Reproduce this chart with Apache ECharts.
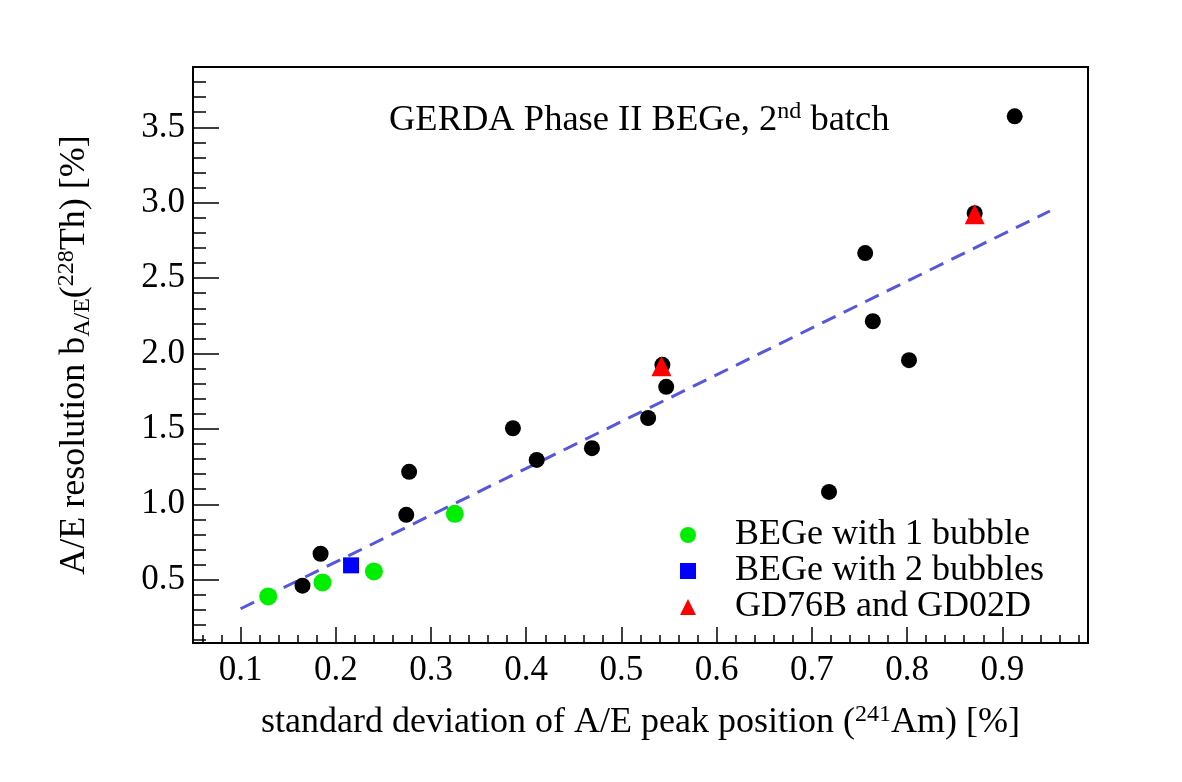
<!DOCTYPE html>
<html><head><meta charset="utf-8">
<script src="https://cdn.jsdelivr.net/npm/echarts@6/dist/echarts.min.js"></script>
<style>html,body{margin:0;padding:0;background:#fff}#c{width:1182px;height:782px}</style>
</head><body><div id="c"></div>
<script>
// ---- data ----
const blackX = [0.165, 0.184, 0.274, 0.277, 0.325, 0.386, 0.411, 0.469, 0.528, 0.543, 0.547, 0.718, 0.756, 0.764, 0.802, 0.871, 0.913];
const blackY = [0.460, 0.672, 0.930, 1.215, 0.940, 1.504, 1.294, 1.372, 1.572, 1.925, 1.779, 1.082, 2.666, 2.214, 1.956, 2.930, 3.573];
const bubble1X = [0.129, 0.186, 0.240, 0.325];
const bubble1Y = [0.389, 0.482, 0.555, 0.937];
const bubble2X = [0.216];
const bubble2Y = [0.595];
const gdX = [0.542, 0.871];
const gdY = [1.915, 2.924];
const fitX = [0.1, 0.95];
const fitY = [0.307, 2.945];
const xTickValues = [0.1, 0.2, 0.3, 0.4, 0.5, 0.6, 0.7, 0.8, 0.9];
const xTickLabels = ['0.1', '0.2', '0.3', '0.4', '0.5', '0.6', '0.7', '0.8', '0.9'];
const yTickValues = [0.5, 1.0, 1.5, 2.0, 2.5, 3.0, 3.5];
const yTickLabels = ['0.5', '1.0', '1.5', '2.0', '2.5', '3.0', '3.5'];
const legendNames = ['BEGe with 1 bubble', 'BEGe with 2 bubbles', 'GD76B and GD02D'];

const xMinorTicks = [];
for (let i = 3; i <= 49; i++) xMinorTicks.push(+(i * 0.02).toFixed(2));
const yMinorTicks = [];
for (let i = 1; i <= 38; i++) yMinorTicks.push(+(i * 0.1).toFixed(1));

const zip = (a, b) => a.map((v, i) => [v, b[i]]);
const FONT = 'Liberation Serif';
const lab = (vals, labels) => v => { const i = vals.findIndex(t => Math.abs(t - v) < 1e-6); return i >= 0 ? labels[i] : ''; };

const chart = echarts.init(document.getElementById('c'), null, {renderer: 'canvas'});
const option = {
  animation: false,
  backgroundColor: '#ffffff',
  textStyle: {fontFamily: FONT},
  title: {
    text: '{t|GERDA Phase II BEGe, 2}{s|nd}{t| batch}',
    left: 389, top: 100, padding: 0,
    textStyle: {
      fontWeight: 'normal',
      rich: {
        t: {fontSize: 36.5, fontFamily: FONT, fontWeight: 'normal', color: '#000', lineHeight: 40},
        s: {fontSize: 24, fontFamily: FONT, fontWeight: 'normal', color: '#000', lineHeight: 24, verticalAlign: 'top'}
      }
    }
  },
  legend: {
    data: legendNames, orient: 'vertical', left: 680, top: 517,
    itemWidth: 16, itemHeight: 16, itemGap: 0, selectedMode: false, padding: 0,
    textStyle: {fontSize: 36, fontFamily: FONT, color: '#000', lineHeight: 35.5, padding: [0, 0, 0, 34]}
  },
  grid: {left: 193, top: 67, right: 94, bottom: 139, show: true, borderColor: '#000', borderWidth: 2, backgroundColor: 'transparent'},
  xAxis: [
    {
      type: 'value', min: 0.05, max: 0.99, position: 'bottom',
      splitLine: {show: false}, axisLine: {show: false},
      axisTick: {show: true, inside: true, length: 16, customValues: xTickValues, lineStyle: {color: '#000', width: 1.5}},
      axisLabel: {customValues: xTickValues, formatter: lab(xTickValues, xTickLabels), fontSize: 35, color: '#000', margin: 10, fontFamily: FONT},
      name: '{t|standard deviation of A/E peak position (}{s|241}{t|Am) [%]}',
      nameLocation: 'middle', nameGap: 60,
      nameTextStyle: {
        rich: {
          t: {fontSize: 36, fontFamily: FONT, color: '#000', lineHeight: 40},
          s: {fontSize: 24, fontFamily: FONT, color: '#000', lineHeight: 24, verticalAlign: 'top'}
        }
      }
    },
    {
      type: 'value', min: 0.05, max: 0.99, position: 'bottom', offset: 0,
      splitLine: {show: false}, axisLine: {show: false},
      axisTick: {show: true, inside: true, length: 8, customValues: xMinorTicks, lineStyle: {color: '#000', width: 1.5}},
      axisLabel: {show: false}
    }
  ],
  yAxis: [
    {
      type: 'value', min: 0.08, max: 3.9, position: 'left',
      splitLine: {show: false}, axisLine: {show: false},
      axisTick: {show: true, inside: true, length: 26, customValues: yTickValues, lineStyle: {color: '#000', width: 1.5}},
      axisLabel: {customValues: yTickValues, formatter: lab(yTickValues, yTickLabels), fontSize: 35, color: '#000', margin: 8, fontFamily: FONT},
      name: '{t|A/E resolution b}{b|A/E}{t|(}{s|228}{t|Th) [%]}',
      nameLocation: 'middle', nameGap: 98, nameRotate: 90,
      nameTextStyle: {
        rich: {
          t: {fontSize: 36, fontFamily: FONT, color: '#000', lineHeight: 40},
          s: {fontSize: 24, fontFamily: FONT, color: '#000', lineHeight: 24, verticalAlign: 'top'},
          b: {fontSize: 24, fontFamily: FONT, color: '#000', lineHeight: 24, verticalAlign: 'bottom'}
        }
      }
    },
    {
      type: 'value', min: 0.08, max: 3.9, position: 'left', offset: 0,
      splitLine: {show: false}, axisLine: {show: false},
      axisTick: {show: true, inside: true, length: 13, customValues: yMinorTicks, lineStyle: {color: '#000', width: 1.5}},
      axisLabel: {show: false}
    }
  ],
  series: [
    {
      name: 'fit', type: 'line', data: zip(fitX, fitY), symbol: 'none', silent: true,
      lineStyle: {color: '#5757dd', width: 3, type: [15, 9]}, z: 1
    },
    {
      name: 'all', type: 'scatter', data: zip(blackX, blackY), symbol: 'circle', symbolSize: 16,
      itemStyle: {color: '#000', opacity: 1}, z: 2
    },
    {
      name: legendNames[0], type: 'scatter', data: zip(bubble1X, bubble1Y), symbol: 'circle', symbolSize: 18,
      itemStyle: {color: '#00ee00', opacity: 1}, z: 3
    },
    {
      name: legendNames[1], type: 'scatter', data: zip(bubble2X, bubble2Y), symbol: 'rect', symbolSize: 16,
      itemStyle: {color: '#0000ff', opacity: 1}, z: 3
    },
    {
      name: legendNames[2], type: 'scatter', data: zip(gdX, gdY), symbol: 'triangle', symbolSize: [20, 20],
      itemStyle: {color: '#ff0000', opacity: 1}, z: 4
    }
  ]
};
chart.setOption(option);
</script>
</body></html>
